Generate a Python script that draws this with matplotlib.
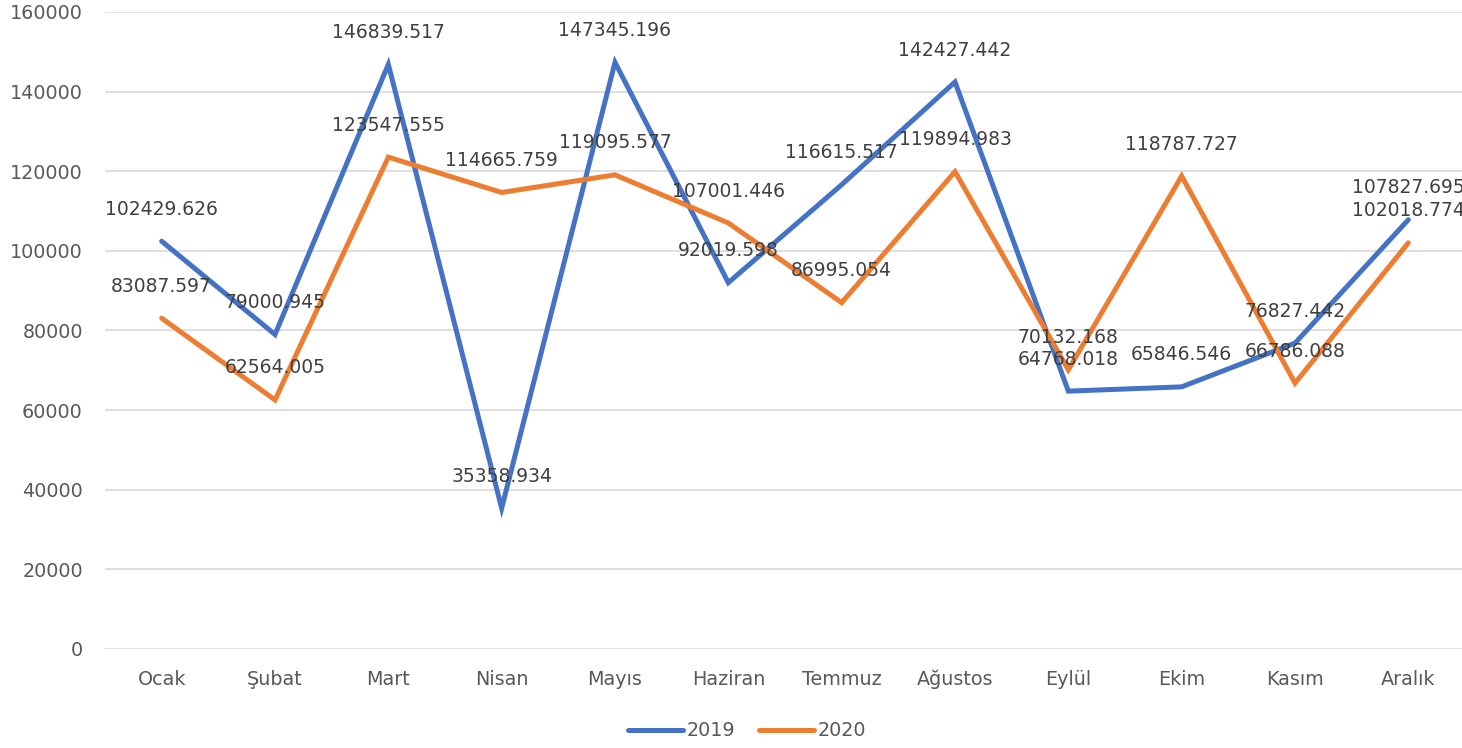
import matplotlib
matplotlib.use("Agg")
import matplotlib.pyplot as plt

months = ["Ocak", "Şubat", "Mart", "Nisan", "Mayıs", "Haziran", "Temmuz",
          "Ağustos", "Eylül", "Ekim", "Kasım", "Aralık"]
s2019 = [102429.626, 79000.945, 146839.517, 35358.934, 147345.196, 92019.598,
         116615.517, 142427.442, 64768.018, 65846.546, 76827.442, 107827.695]
s2020 = [83087.597, 62564.005, 123547.555, 114665.759, 119095.577, 107001.446,
         86995.054, 119894.983, 70132.168, 118787.727, 66786.088, 102018.774]
series_names = ["2019", "2020"]
yticks = [0, 20000, 40000, 60000, 80000, 100000, 120000, 140000, 160000]

colors = ["#4472C4", "#ED7D31"]
plt.rcParams['font.family'] = ['DejaVu Sans']

fig = plt.figure(figsize=(14.62, 7.48), dpi=100)
ax = fig.add_axes([105/1462, 1 - 649/748, 1360/1462, 637/748])

x = list(range(len(months)))
for vals, name, c in zip([s2019, s2020], series_names, colors):
    ax.plot(x, vals, color=c, lw=3.6, label=name, solid_capstyle='round',
            solid_joinstyle='miter', zorder=3)
for vals in [s2019, s2020]:
    for xi, v in zip(x, vals):
        ax.annotate(f"{v:.3f}", (xi, v), xytext=(0, 23), textcoords='offset points',
                    ha='center', va='center', fontsize=13.5, color='#404040',
                    zorder=4, annotation_clip=False)

ax.set_xlim(-0.5, len(months) - 0.5)
ax.set_ylim(0, 160000)
ax.set_yticks(yticks)
ax.set_yticklabels([str(t) for t in yticks])
ax.set_xticks(x)
ax.set_xticklabels(months)
ax.tick_params(axis='both', length=0, labelsize=13.8, labelcolor='#595959')
ax.tick_params(axis='y', pad=16)
ax.tick_params(axis='x', pad=15)
ax.grid(axis='y', color='#D9D9D9', lw=1.2)
ax.set_axisbelow(True)
for sp in ax.spines.values():
    sp.set_visible(False)

leg = fig.legend(loc='center', bbox_to_anchor=(747/1462, 1 - 731/748), ncol=2,
                 frameon=False, fontsize=13.8, handlelength=2.9, handletextpad=0.2,
                 columnspacing=1.2)
for t in leg.get_texts():
    t.set_color('#595959')

fig.savefig("out.png", dpi=100)
